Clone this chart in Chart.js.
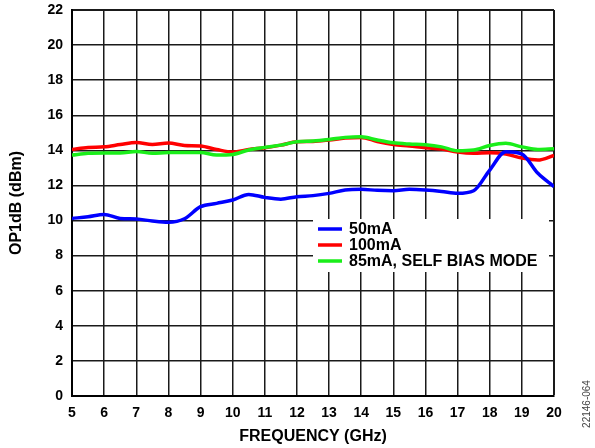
<!DOCTYPE html>
<html>
<head>
<meta charset="utf-8">
<script src="https://cdn.jsdelivr.net/npm/chart.js@4"></script>
<style>
  html, body { margin: 0; padding: 0; background: #fff; }
</style>
</head>
<body>
<canvas id="myChart" width="595" height="448"></canvas>
<script>
  // frequency points (GHz)
  const freq = [5, 5.5, 6, 6.5, 7, 7.5, 8, 8.5, 9, 9.5, 10, 10.5, 11, 11.5, 12, 12.5,
    13, 13.5, 14, 14.5, 15, 15.5, 16, 16.5, 17, 17.5, 18, 18.5, 19, 19.5, 20];

  // OP1dB (dBm)
  const op50 = [10.12, 10.22, 10.35, 10.12, 10.09, 9.97, 9.9, 10.1, 10.79, 10.98, 11.17, 11.49,
    11.32, 11.22, 11.36, 11.42, 11.55, 11.74, 11.78, 11.72, 11.7, 11.78, 11.74, 11.66,
    11.55, 11.7, 12.88, 13.92, 13.79, 12.69, 11.93];
  const op100 = [14.05, 14.17, 14.2, 14.33, 14.45, 14.34, 14.42, 14.28, 14.25, 14.05, 13.9, 14.05,
    14.15, 14.3, 14.49, 14.51, 14.59, 14.7, 14.74, 14.51, 14.34, 14.25, 14.15, 14.07,
    13.9, 13.83, 13.86, 13.79, 13.56, 13.45, 13.71];
  const op85 = [13.73, 13.83, 13.85, 13.85, 13.94, 13.83, 13.88, 13.88, 13.88, 13.73, 13.77, 14.02,
    14.17, 14.3, 14.49, 14.53, 14.62, 14.74, 14.78, 14.59, 14.43, 14.36, 14.32, 14.2,
    13.98, 14.02, 14.28, 14.4, 14.2, 14.05, 14.09];

  const seriesLabels = ['50mA', '100mA', '85mA, SELF BIAS MODE'];
  const seriesColors = ['#0000ff', '#ff0000', '#1aee1a'];
  const seriesValues = [op50, op100, op85];
  const drawOrder = [0, 2, 1];

  const FONT = "'Liberation Sans', Arial, sans-serif";

  const toPoints = (vals) => vals.map((v, i) => ({ x: freq[i], y: v }));

  const data = {
    datasets: seriesValues.map((vals, i) => ({
      label: seriesLabels[i],
      data: toPoints(vals),
      borderColor: seriesColors[i],
      backgroundColor: seriesColors[i],
      borderWidth: 3.5,
      pointRadius: 0,
      tension: 0.4,
      cubicInterpolationMode: 'monotone',
      order: drawOrder[i]
    }))
  };

  // legend box drawn inside the plot + the figure id at the right edge
  const extras = {
    id: 'extras',
    afterDatasetsDraw(chart) {
      const ctx = chart.ctx;
      ctx.save();
      ctx.fillStyle = '#fff';
      ctx.fillRect(313, 219, 236, 53);
      ctx.font = 'bold 16px ' + FONT;
      ctx.textBaseline = 'middle';
      chart.data.datasets.forEach((ds, i) => {
        const y = 229 + i * 16;
        ctx.strokeStyle = ds.borderColor;
        ctx.lineWidth = 3.5;
        ctx.beginPath();
        ctx.moveTo(318, y);
        ctx.lineTo(342, y);
        ctx.stroke();
        ctx.fillStyle = '#000';
        ctx.fillText(ds.label, 349, y + 1);
      });
      ctx.restore();
    },
    afterDraw(chart) {
      const ctx = chart.ctx;
      ctx.save();
      ctx.translate(587, 404);
      ctx.rotate(-Math.PI / 2);
      ctx.font = '10px ' + FONT;
      ctx.fillStyle = '#444';
      ctx.textAlign = 'center';
      ctx.textBaseline = 'middle';
      ctx.fillText('22146-064', 0, 0);
      ctx.restore();
    }
  };

  const config = {
    type: 'line',
    data,
    options: {
      responsive: false,
      animation: false,
      layout: { padding: { top: 10, right: 41, left: 0, bottom: 0 } },
      scales: {
        x: {
          type: 'linear',
          min: 5,
          max: 20,
          ticks: {
            stepSize: 1,
            padding: 9,
            color: '#000',
            font: { family: FONT, size: 14, weight: 'bold' }
          },
          grid: {
            color: '#1a1a1a',
            lineWidth: (c) => (c.tick && c.tick.value === 20 ? 2 : 1.5),
            drawTicks: false
          },
          border: { color: '#000', width: 2 },
          title: {
            display: true,
            text: 'FREQUENCY (GHz)',
            color: '#000',
            padding: { top: 0, bottom: 2 },
            font: { family: FONT, size: 16, weight: 'bold' }
          },
          afterFit(scale) { scale.height = 52; }
        },
        y: {
          min: 0,
          max: 22,
          ticks: {
            stepSize: 2,
            padding: 9,
            color: '#000',
            font: { family: FONT, size: 14, weight: 'bold' }
          },
          grid: {
            color: '#1a1a1a',
            lineWidth: (c) => (c.tick && c.tick.value === 22 ? 2 : 1.5),
            drawTicks: false
          },
          border: { color: '#000', width: 2 },
          title: {
            display: true,
            text: 'OP1dB (dBm)',
            color: '#000',
            padding: { top: 7, bottom: 0 },
            font: { family: FONT, size: 16, weight: 'bold' }
          },
          afterFit(scale) {
            scale.width = 72;
            scale.paddingTop = 0;
            scale.paddingBottom = 0;
          }
        }
      },
      plugins: {
        legend: { display: false },
        tooltip: { enabled: false }
      }
    },
    plugins: [extras]
  };

  // render init block
  const myChart = new Chart(
    document.getElementById('myChart'),
    config
  );
</script>
</body>
</html>
